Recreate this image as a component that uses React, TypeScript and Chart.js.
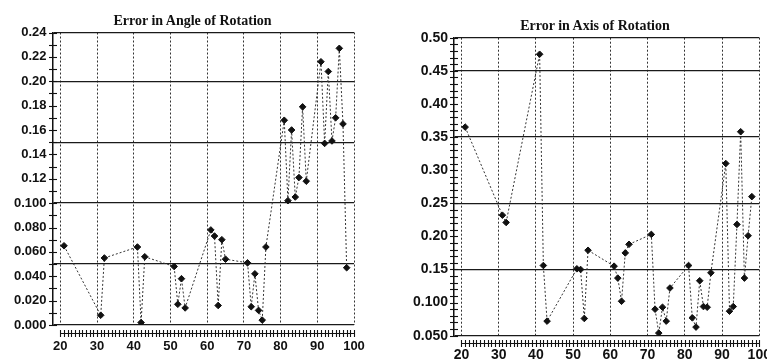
import React, { useEffect, useRef } from 'react';
import { Chart, registerables } from 'chart.js';

Chart.register(...registerables);

// ---- data ----
const xValues = [21, 31, 32, 41, 42, 43, 51, 52, 53, 54, 61, 62, 63, 64, 65, 71, 72, 73, 74, 75, 76, 81, 82, 83, 84, 85, 86, 87, 91, 92, 93, 94, 95, 96, 97, 98];
const angleErrors = [0.065, 0.008, 0.055, 0.064, 0.002, 0.056, 0.048, 0.017, 0.038, 0.014, 0.078, 0.073, 0.016, 0.070, 0.054, 0.051, 0.015, 0.042, 0.012, 0.004, 0.064, 0.168, 0.102, 0.160, 0.105, 0.121, 0.179, 0.118, 0.216, 0.149, 0.208, 0.151, 0.170, 0.227, 0.165, 0.047];
const axisErrors = [0.365, 0.232, 0.221, 0.475, 0.156, 0.072, 0.151, 0.150, 0.076, 0.179, 0.155, 0.137, 0.102, 0.175, 0.188, 0.203, 0.090, 0.054, 0.093, 0.072, 0.122, 0.156, 0.077, 0.063, 0.133, 0.094, 0.093, 0.145, 0.310, 0.087, 0.094, 0.218, 0.358, 0.137, 0.201, 0.260];
const xTickValues = [20, 30, 40, 50, 60, 70, 80, 90, 100];
const angleYLabels = ['0.000', '0.020', '0.040', '0.060', '0.080', '0.100', '0.12', '0.14', '0.16', '0.18', '0.20', '0.22', '0.24'];
const angleGridValues = [0, 0.05, 0.1, 0.15, 0.2, 0.24];
const axisYLabels = ['0.050', '0.100', '0.15', '0.20', '0.25', '0.30', '0.35', '0.40', '0.45', '0.50'];
const axisGridValues = [0.05, 0.15, 0.25, 0.35, 0.45, 0.5];
const angleTitle = 'Error in Angle of Rotation';
const axisTitle = 'Error in Axis of Rotation';

// ---- plugin: crossing tick marks on y axis and x ruler ----
const rulerPlugin = {
  id: 'ruler',
  afterDraw(chart: any, _args: any, opts: any) {
    const { ctx, chartArea, scales } = chart;
    const x = scales.x;
    const y = scales.y;
    ctx.save();
    ctx.strokeStyle = '#111';
    ctx.lineWidth = 1.1;
    const ax = chartArea.left;
    const nY = Math.round((opts.yMax - opts.yMin) / opts.yStep);
    for (let i = 0; i <= nY; i++) {
      const v = opts.yMin + i * opts.yStep;
      const py = Math.round(y.getPixelForValue(v)) + 0.5;
      ctx.beginPath();
      ctx.moveTo(ax - opts.tickHalf, py);
      ctx.lineTo(ax + opts.tickHalf, py);
      ctx.stroke();
    }
    const ry = Math.round(chartArea.bottom + opts.rulerOffset) + 0.5;
    const x0 = x.getPixelForValue(opts.xFrom);
    const x1 = x.getPixelForValue(opts.xTo);
    ctx.beginPath();
    ctx.moveTo(x0, ry);
    ctx.lineTo(x1, ry);
    ctx.stroke();
    const nX = Math.round((opts.xTo - opts.xFrom) / opts.xStep);
    for (let i = 0; i <= nX; i++) {
      const px = Math.round(x.getPixelForValue(opts.xFrom + i * opts.xStep)) + 0.5;
      ctx.beginPath();
      ctx.moveTo(px, ry - 3.5);
      ctx.lineTo(px, ry + 3.5);
      ctx.stroke();
    }
    ctx.restore();
  },
};

interface PanelProps {
  title: string;
  titleCenter: number;
  titleBaseline: number;
  values: number[];
  yMin: number;
  yMax: number;
  yLabels: string[];
  gridValues: number[];
  canvasLeft: number;
  canvasWidth: number;
  canvasHeight: number;
  padTop: number;
  padR: number;
  yWidth: number;
  xHeight: number;
  tickSize: number;
  yPad: number;
  xPad: number;
}

const near = (a: number, b: number) => Math.abs(a - b) < 1e-7;

function Panel(p: PanelProps) {
  const ref = useRef<HTMLCanvasElement | null>(null);
  useEffect(() => {
    if (!ref.current) return;
    const labelValues = p.yLabels.map((l) => parseFloat(l));
    const yTicks: number[] = [];
    [...labelValues, ...p.gridValues].forEach((v) => {
      if (!yTicks.some((t) => near(t, v))) yTicks.push(v);
    });
    yTicks.sort((a, b) => a - b);
    const isGrid = (v: number) => p.gridValues.some((g) => near(g, v));
    const tickFont = { family: 'Liberation Sans', size: p.tickSize, weight: 'bold' as const };

    const chart = new Chart(ref.current, {
      type: 'line',
      data: {
        datasets: [
          {
            data: xValues.map((x, i) => ({ x, y: p.values[i] })),
            borderColor: '#333',
            borderWidth: 1,
            borderDash: [2, 2],
            pointStyle: 'rectRot',
            pointRadius: 3.3,
            pointBackgroundColor: '#111',
            pointBorderColor: '#111',
            pointBorderWidth: 1,
            tension: 0,
            fill: false,
          },
        ],
      },
      options: {
        animation: false,
        responsive: false,
        devicePixelRatio: 1,
        layout: { padding: { left: 0, right: p.padR, top: p.padTop, bottom: 0 } },
        plugins: {
          legend: { display: false },
          tooltip: { enabled: false },
          title: { display: false },
          ruler: {
            yMin: p.yMin,
            yMax: p.yMax,
            yStep: 0.01,
            tickHalf: 4,
            rulerOffset: 7.5,
            xFrom: 20,
            xTo: 100,
            xStep: 1,
          },
        } as any,
        scales: {
          x: {
            type: 'linear',
            min: 18,
            max: 100,
            afterBuildTicks: (scale: any) => {
              scale.ticks = xTickValues.map((v) => ({ value: v }));
            },
            afterFit: (scale: any) => {
              scale.height = p.xHeight;
            },
            ticks: {
              autoSkip: false,
              maxRotation: 0,
              color: '#111',
              font: tickFont,
              padding: p.xPad,
              callback: (v: any) => String(v),
            },
            grid: { color: '#333', lineWidth: 1, drawTicks: false },
            border: { display: false, dash: [2, 2] },
          },
          y: {
            type: 'linear',
            min: p.yMin,
            max: p.yMax,
            afterBuildTicks: (scale: any) => {
              scale.ticks = yTicks.map((v) => ({ value: v }));
            },
            afterFit: (scale: any) => {
              scale.width = p.yWidth;
            },
            ticks: {
              autoSkip: false,
              color: '#111',
              font: tickFont,
              padding: p.yPad,
              callback: (v: any) => {
                const i = labelValues.findIndex((l) => near(l, Number(v)));
                return i >= 0 ? p.yLabels[i] : '';
              },
            },
            grid: {
              drawTicks: false,
              color: (ctx: any) => (ctx.tick && isGrid(ctx.tick.value) ? '#1a1a1a' : 'rgba(0,0,0,0)'),
              lineWidth: 1.3,
            },
            border: { display: true, color: '#111', width: 1.5 },
          },
        },
      },
      plugins: [rulerPlugin as any],
    });
    return () => chart.destroy();
  }, []);
  return (
    <>
      <div
        style={{
          position: 'absolute',
          left: p.titleCenter - 150,
          width: 300,
          top: p.titleBaseline - 13,
          height: 17,
          lineHeight: '17px',
          textAlign: 'center',
          fontFamily: 'Liberation Serif',
          fontWeight: 'bold',
          fontSize: 14,
          color: '#111',
          whiteSpace: 'nowrap',
          zIndex: 2,
        }}
      >
        {p.title}
      </div>
      <canvas
        ref={ref}
        width={p.canvasWidth}
        height={p.canvasHeight}
        style={{ position: 'absolute', left: p.canvasLeft, top: 0, width: p.canvasWidth, height: p.canvasHeight }}
      />
    </>
  );
}

export default function App() {
  return (
    <div style={{ position: 'fixed', left: 0, top: 0, width: 767, height: 360, overflow: 'hidden', background: '#fff' }}>
      <Panel
        title={angleTitle}
        titleCenter={192.5}
        titleBaseline={25}
        values={angleErrors}
        yMin={0}
        yMax={0.24}
        yLabels={angleYLabels}
        gridValues={angleGridValues}
        canvasLeft={0}
        canvasWidth={385}
        canvasHeight={370}
        padTop={32.5}
        padR={31}
        yWidth={53}
        xHeight={45}
        tickSize={13}
        yPad={6.5}
        xPad={14}
      />
      <Panel
        title={axisTitle}
        titleCenter={595}
        titleBaseline={30}
        values={axisErrors}
        yMin={0.05}
        yMax={0.5}
        yLabels={axisYLabels}
        gridValues={axisGridValues}
        canvasLeft={390}
        canvasWidth={410}
        canvasHeight={370}
        padTop={37.7}
        padR={40.7}
        yWidth={64}
        xHeight={34.3}
        tickSize={14}
        yPad={6}
        xPad={11}
      />
    </div>
  );
}
